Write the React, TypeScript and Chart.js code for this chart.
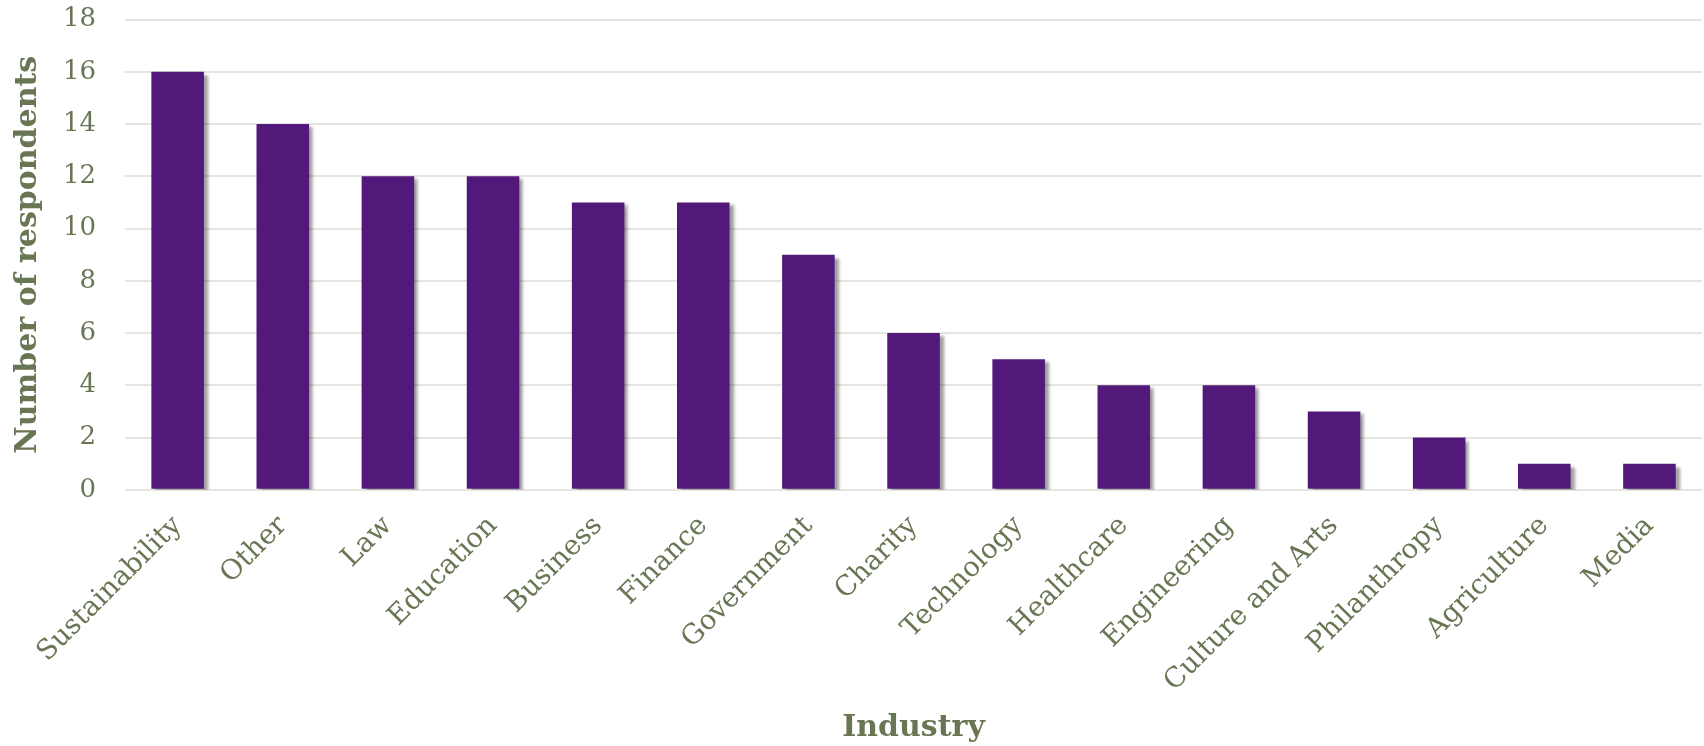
import React, { useEffect, useRef } from "react";
import { Chart, registerables } from "chart.js";

Chart.register(...registerables);

const categories = [
  "Sustainability", "Other", "Law", "Education", "Business", "Finance", "Government",
  "Charity", "Technology", "Healthcare", "Engineering", "Culture and Arts",
  "Philanthropy", "Agriculture", "Media",
];
const respondents = [16, 14, 12, 12, 11, 11, 9, 6, 5, 4, 4, 3, 2, 1, 1];
const yTicksMax = 18;
const yTickStep = 2;
const xTitle = "Industry";
const yTitle = "Number of respondents";

const TEXT = "#687654";
const FONT = "'DejaVu Serif', 'Liberation Serif', serif";

const shadowPlugin = {
  id: "barShadow",
  beforeDatasetsDraw(chart: any) {
    const ctx = chart.ctx;
    ctx.save();
    ctx.shadowColor = "rgba(0,0,0,0.38)";
    ctx.shadowBlur = 3;
    ctx.shadowOffsetX = 4;
    ctx.shadowOffsetY = 3;
  },
  afterDatasetsDraw(chart: any) {
    chart.ctx.restore();
  },
};

export default function App() {
  const ref = useRef<HTMLCanvasElement | null>(null);
  useEffect(() => {
    document.body.style.margin = "0";
    const chart = new Chart(ref.current as HTMLCanvasElement, {
      type: "bar",
      data: {
        labels: categories,
        datasets: [
          {
            data: respondents,
            backgroundColor: "#52187A",
            borderWidth: 0,
            categoryPercentage: 1,
            barPercentage: 0.5,
          },
        ],
      },
      plugins: [shadowPlugin],
      options: {
        animation: false,
        responsive: false,
        maintainAspectRatio: false,
        layout: { padding: { top: 0, right: 2, left: 10, bottom: 0 } },
        plugins: { legend: { display: false }, tooltip: { enabled: false } },
        scales: {
          x: {
            grid: { display: false },
            border: { display: false },
            ticks: {
              color: TEXT,
              font: { family: FONT, size: 27.5 },
              minRotation: 45,
              maxRotation: 45,
              padding: 12,
            },
            afterFit: (scale: any) => {
              scale.paddingLeft = 0;
              scale.paddingRight = 0;
            },
            title: {
              display: true,
              text: xTitle,
              color: TEXT,
              font: { family: FONT, size: 30, weight: "bold" },
              padding: { top: 0, bottom: 0 },
            },
          },
          y: {
            min: 0,
            max: yTicksMax,
            grid: {
              color: "#e6e6e1",
              lineWidth: 2,
              drawTicks: true,
              tickLength: 25,
              tickColor: "rgba(0,0,0,0)",
            },
            border: { display: false },
            ticks: {
              stepSize: yTickStep,
              color: TEXT,
              font: { family: FONT, size: 26 },
              padding: 4,
            },
            title: {
              display: true,
              text: yTitle,
              color: TEXT,
              font: { family: FONT, size: 30, weight: "bold" },
              padding: { top: 0, bottom: 13 },
            },
          },
        },
      },
    });
    return () => chart.destroy();
  }, []);
  return (
    <div style={{ position: "absolute", left: 0, top: 0, width: 1704, height: 746 }}>
      <canvas ref={ref} width={1704} height={746} style={{ width: 1704, height: 746 }} />
    </div>
  );
}
